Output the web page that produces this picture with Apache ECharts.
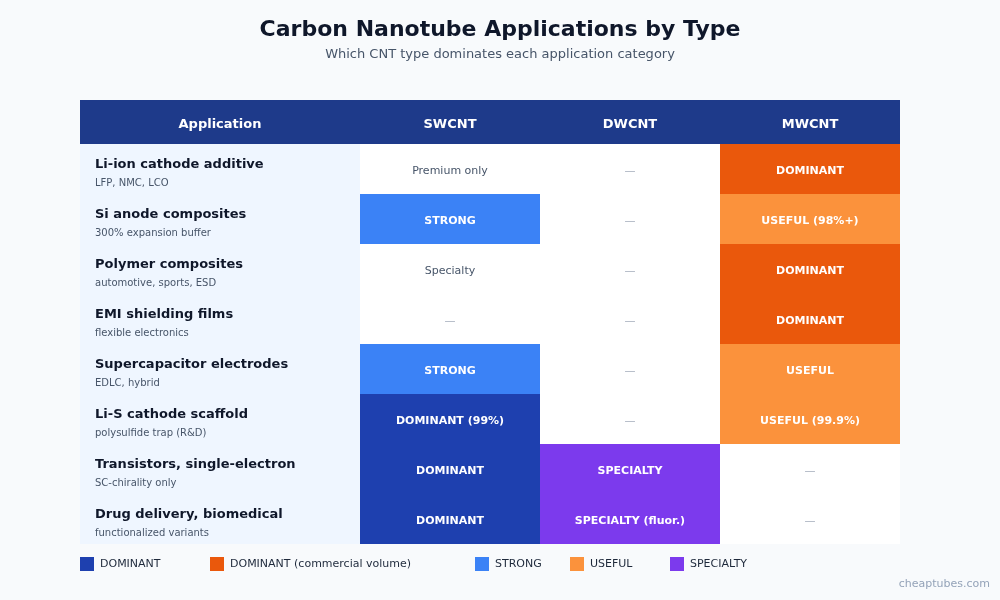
<!DOCTYPE html>
<html>
<head>
<meta charset="utf-8">
<title>Carbon Nanotube Applications by Type</title>
<script src="https://cdn.jsdelivr.net/npm/echarts@6/dist/echarts.min.js"></script>
<style>
  html, body { margin: 0; padding: 0; background: #f8fafc; }
  #chart { width: 1000px; height: 600px; }
</style>
</head>
<body>
<div id="chart"></div>
<script>
// table content
var apps = ['Li-ion cathode additive', 'Si anode composites', 'Polymer composites', 'EMI shielding films',
  'Supercapacitor electrodes', 'Li-S cathode scaffold', 'Transistors, single-electron', 'Drug delivery, biomedical'];
var appNotes = ['LFP, NMC, LCO', '300% expansion buffer', 'automotive, sports, ESD', 'flexible electronics',
  'EDLC, hybrid', 'polysulfide trap (R&D)', 'SC-chirality only', 'functionalized variants'];
var types = ['SWCNT', 'DWCNT', 'MWCNT'];

// per column: rating level and cell text
var swcntLevel = ['none', 'strong', 'none', 'none', 'strong', 'dominant', 'dominant', 'dominant'];
var swcntText = ['Premium only', 'STRONG', 'Specialty', '\u2014', 'STRONG', 'DOMINANT (99%)', 'DOMINANT', 'DOMINANT'];
var dwcntLevel = ['none', 'none', 'none', 'none', 'none', 'none', 'specialty', 'specialty'];
var dwcntText = ['\u2014', '\u2014', '\u2014', '\u2014', '\u2014', '\u2014', 'SPECIALTY', 'SPECIALTY (fluor.)'];
var mwcntLevel = ['commercial', 'useful', 'commercial', 'commercial', 'useful', 'useful', 'none', 'none'];
var mwcntText = ['DOMINANT', 'USEFUL (98%+)', 'DOMINANT', 'DOMINANT', 'USEFUL', 'USEFUL (99.9%)', '\u2014', '\u2014'];

var levels = [
  {key: 'dominant', name: 'DOMINANT', color: '#1e40af'},
  {key: 'commercial', name: 'DOMINANT (commercial volume)', color: '#ea580c'},
  {key: 'strong', name: 'STRONG', color: '#3b82f6'},
  {key: 'useful', name: 'USEFUL', color: '#fb923c'},
  {key: 'specialty', name: 'SPECIALTY', color: '#7c3aed'},
  {key: 'none', name: 'none', color: '#ffffff'}
];
var legendLeft = [80, 210, 475, 570, 670];

var FONT = "'DejaVu Sans', sans-serif";

var columns = [[swcntLevel, swcntText], [dwcntLevel, dwcntText], [mwcntLevel, mwcntText]];

function cellsFor(levelKey) {
  var out = [];
  for (var c = 0; c < columns.length; c++) {
    for (var r = 0; r < apps.length; r++) {
      if (columns[c][0][r] === levelKey) {
        out.push({value: [c, r], text: columns[c][1][r]});
      }
    }
  }
  return out;
}

function makeCellSeries(lv) {
  var data = cellsFor(lv.key);
  var empty = lv.key === 'none';
  return {
    name: lv.name,
    type: 'custom',
    xAxisIndex: 0,
    yAxisIndex: 0,
    itemStyle: {color: lv.color},
    data: data,
    renderItem: function (params, api) {
      var c = api.coord([api.value(0), api.value(1)]);
      var s = api.size([1, 1]);
      var txt = data[params.dataIndex].text;
      var isDash = txt === '\u2014';
      return {
        type: 'group',
        children: [
          {type: 'rect', shape: {x: c[0] - s[0] / 2, y: c[1] - s[1] / 2, width: s[0], height: s[1]},
            style: {fill: api.visual('color')}},
          {type: 'text', style: {
            text: txt, x: c[0], y: c[1] + 2, align: 'center', verticalAlign: 'middle',
            fill: empty ? (isDash ? '#a3adbb' : '#475569') : '#ffffff',
            font: (empty ? 'normal ' : 'bold ') + '11px ' + FONT
          }}
        ]
      };
    }
  };
}

var chart = echarts.init(document.getElementById('chart'));

var series = levels.map(makeCellSeries);

// application column
series.push({
  name: 'apps',
  type: 'custom',
  xAxisIndex: 1,
  yAxisIndex: 1,
  data: apps.map(function (a, i) { return [0, i]; }),
  renderItem: function (params, api) {
    var c = api.coord([0, api.value(1)]);
    var s = api.size([1, 1]);
    var x0 = c[0] - s[0] / 2;
    return {
      type: 'group',
      children: [
        {type: 'rect', shape: {x: x0, y: c[1] - s[1] / 2, width: s[0], height: s[1]}, style: {fill: '#eff6ff'}},
        {type: 'text', style: {text: apps[params.dataIndex], x: x0 + 15, y: c[1] - 4, verticalAlign: 'middle',
          fill: '#0f172a', font: 'bold 13px ' + FONT}},
        {type: 'text', style: {text: appNotes[params.dataIndex], x: x0 + 15, y: c[1] + 14, verticalAlign: 'middle',
          fill: '#475569', font: '10px ' + FONT}}
      ]
    };
  }
});

var headerLabel = {
  show: true, margin: 19, verticalAlign: 'middle', color: '#ffffff',
  fontSize: 13, fontWeight: 'bold', fontFamily: FONT
};

var option = {
  backgroundColor: '#f8fafc',
  animation: false,
  title: {
    text: 'Carbon Nanotube Applications by Type',
    subtext: 'Which CNT type dominates each application category',
    left: 'center', top: 17, padding: 0, itemGap: 4,
    textStyle: {fontSize: 22, fontWeight: 'bold', color: '#0f172a', fontFamily: FONT, lineHeight: 26},
    subtextStyle: {fontSize: 13, color: '#475569', fontFamily: FONT, lineHeight: 16}
  },
  legend: levels.slice(0, 5).map(function (lv, i) {
    return {
      data: [lv.name], left: legendLeft[i], top: 557, padding: 0,
      icon: 'rect', itemWidth: 14, itemHeight: 14, itemGap: 6, selectedMode: false,
      textStyle: {fontSize: 11, color: '#1e293b', fontFamily: FONT, padding: [0, 0, 0, 1]}
    };
  }),
  grid: [
    {left: 360, top: 144, width: 540, height: 400},
    {left: 80, top: 144, width: 280, height: 400}
  ],
  xAxis: [
    {type: 'category', gridIndex: 0, data: types, position: 'top',
      axisLine: {show: false}, axisTick: {show: false}, splitLine: {show: false}, axisLabel: headerLabel},
    {type: 'category', gridIndex: 1, data: ['Application'], position: 'top',
      axisLine: {show: false}, axisTick: {show: false}, splitLine: {show: false}, axisLabel: headerLabel}
  ],
  yAxis: [
    {type: 'category', gridIndex: 0, data: apps, inverse: true,
      axisLine: {show: false}, axisTick: {show: false}, axisLabel: {show: false}, splitLine: {show: false}},
    {type: 'category', gridIndex: 1, data: apps, inverse: true,
      axisLine: {show: false}, axisTick: {show: false}, axisLabel: {show: false}, splitLine: {show: false}}
  ],
  graphic: [
    {type: 'rect', left: 80, top: 100, z: -10, shape: {width: 820, height: 44}, style: {fill: '#1e3a8a'}},
    {type: 'text', right: 10, bottom: 10, style: {text: 'cheaptubes.com', fill: '#94a3b8', font: '11px ' + FONT}}
  ],
  series: series
};

chart.setOption(option);
</script>
</body>
</html>
